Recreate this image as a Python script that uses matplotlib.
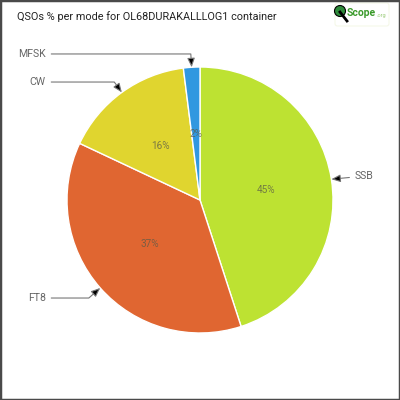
import matplotlib.pyplot as plt
from matplotlib.patches import Rectangle, Circle, FancyBboxPatch
import numpy as np

modes = ["SSB", "FT8", "CW", "MFSK"]
shares = [45, 37, 16, 2]
colors = ["#bde232", "#e06631", "#e0d52f", "#3098e0"]
title = "QSOs % per mode for OL68DURAKALLLOG1 container"

# label text positions (data units, pie radius = 1)
label_pos = {"SSB": (1.165, 0.18), "FT8": (-1.16, -0.737),
             "CW": (-1.16, 0.887), "MFSK": (-1.16, 1.098)}

plt.rcParams["font.family"] = ["Roboto", "DejaVu Sans"]

fig = plt.figure(figsize=(4, 4), dpi=100)
fig.patch.set_facecolor("white")

r_px = 133
ax = fig.add_axes([0.5 - r_px / 400, 0.5 - r_px / 400, 2 * r_px / 400, 2 * r_px / 400])
wedges, texts, autotexts = ax.pie(
    shares, colors=colors, startangle=90, counterclock=False,
    autopct=lambda p: "%.0f%%" % round(p), pctdistance=0.5,
    wedgeprops=dict(edgecolor="white", linewidth=1),
    textprops=dict(fontsize=7.2, color="#5a5a48", alpha=0.75))
ax.set_xlim(-1, 1)
ax.set_ylim(-1, 1)
ax.set_aspect("equal")
ax.axis("off")

for w, mode in zip(wedges, modes):
    mid = np.deg2rad((w.theta1 + w.theta2) / 2)
    tip = (np.cos(mid), np.sin(mid))
    tx, ty = label_pos[mode]
    ha = "left" if tx > 0 else "right"
    if mode == "SSB":
        cs = "arc3"
    else:
        cs = "angle,angleA=0,angleB=%.1f,rad=0" % np.rad2deg(mid)
    ax.annotate(mode, xy=tip, xytext=(tx, ty), ha=ha, va="center",
                fontsize=7.6, color="#666666",
                annotation_clip=False,
                arrowprops=dict(arrowstyle="-|>,head_length=0.6,head_width=0.25",
                                mutation_scale=9, ec="#777777", fc="black",
                                lw=0.8, shrinkA=2, shrinkB=0,
                                connectionstyle=cs))

fig.text(17 / 400, 1 - 17 / 400, title, fontsize=7.8, color="#222222",
         va="center", ha="left")

# logo
fig.patches.append(FancyBboxPatch((335 / 400, 1 - 26 / 400), 54 / 400, 23 / 400,
                                  boxstyle="round,pad=0,rounding_size=0.006",
                                  transform=fig.transFigure, fc="white",
                                  ec="#f2f6e2", lw=0.6))
fig.lines.append(plt.Line2D([340 / 400, 347 / 400], [1 - 12 / 400, 1 - 21 / 400],
                            transform=fig.transFigure, color="black", lw=2))
fig.patches.append(Circle((340 / 400, 1 - 11 / 400), 5.5 / 400,
                          transform=fig.transFigure, fc="#2e8b3a", ec="black", lw=0.8))
fig.text(347 / 400, 1 - 13 / 400, "Scope", fontsize=7.5, color="#3a9a2a",
         fontweight="bold", va="center", ha="left")
fig.text(377 / 400, 1 - 16 / 400, ".org", fontsize=4, color="#9ccc7a",
         va="center", ha="left")

# border
fig.patches.append(Rectangle((0, 0), 1, 1, transform=fig.transFigure,
                             fill=False, ec="#4a4a4a", lw=2.5))

fig.savefig("out.png", dpi=100)
